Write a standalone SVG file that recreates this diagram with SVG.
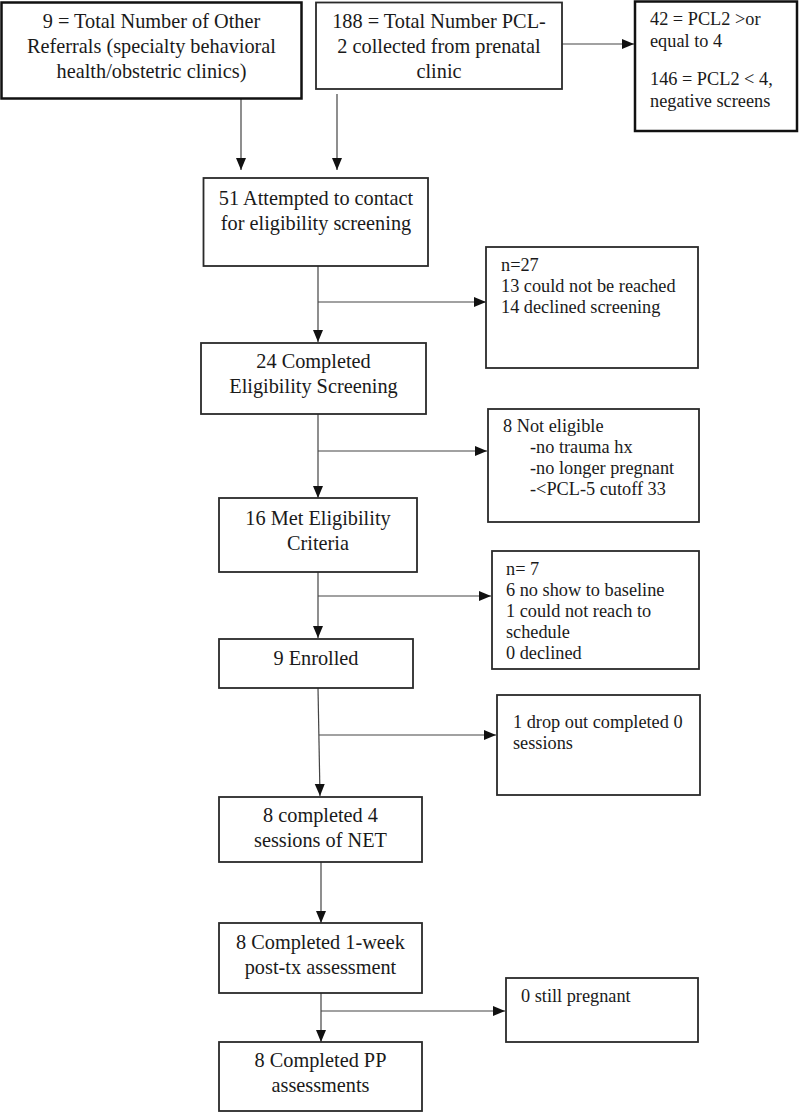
<svg xmlns="http://www.w3.org/2000/svg" width="799" height="1112" viewBox="0 0 799 1112">
<style>
.box{fill:#fff;stroke:#2a2a2a;stroke-width:1.8}
.thick{fill:#fff;stroke:#111;stroke-width:2.5}
.t{font-family:"Liberation Serif","Times New Roman",serif;font-size:20.3px;fill:#1a1a1a}
.s{font-family:"Liberation Serif","Times New Roman",serif;font-size:18.3px;fill:#1a1a1a}
.c{text-anchor:middle}
.ln{stroke:#444;stroke-width:1.2;fill:none}
</style>
<defs>
<marker id="ah" viewBox="0 0 12 10" markerUnits="userSpaceOnUse" markerWidth="12" markerHeight="11" refX="12" refY="5" orient="auto">
<path d="M0,0 L12,5 L0,10 z" fill="#111"/>
</marker>
</defs>
<rect width="799" height="1112" fill="#fff"/>
<g id="connectors">
<line class="ln" x1="562" y1="44" x2="634" y2="44" marker-end="url(#ah)"/>
<line class="ln" x1="241" y1="99" x2="241" y2="170" marker-end="url(#ah)"/>
<line class="ln" x1="337" y1="94" x2="337" y2="170" marker-end="url(#ah)"/>
<line class="ln" x1="318" y1="266" x2="318" y2="342" marker-end="url(#ah)"/>
<line class="ln" x1="318" y1="302" x2="486" y2="302" marker-end="url(#ah)"/>
<line class="ln" x1="318" y1="414" x2="318" y2="498" marker-end="url(#ah)"/>
<line class="ln" x1="318" y1="451" x2="487" y2="451" marker-end="url(#ah)"/>
<line class="ln" x1="318" y1="572" x2="318" y2="638" marker-end="url(#ah)"/>
<line class="ln" x1="318" y1="596" x2="491" y2="596" marker-end="url(#ah)"/>
<line class="ln" x1="318" y1="688" x2="320" y2="796" marker-end="url(#ah)"/>
<line class="ln" x1="319" y1="735" x2="496" y2="735" marker-end="url(#ah)"/>
<line class="ln" x1="321" y1="862" x2="321" y2="923" marker-end="url(#ah)"/>
<line class="ln" x1="321" y1="993" x2="321" y2="1042" marker-end="url(#ah)"/>
<line class="ln" x1="321" y1="1011" x2="505" y2="1011" marker-end="url(#ah)"/>
</g>
<g id="n-other-referrals">
<rect class="thick" x="1.5" y="2.5" width="300" height="96"/>
<text class="t c" x="151.5" y="28">9 = Total Number of Other</text>
<text class="t c" x="151.5" y="53">Referrals (specialty behavioral</text>
<text class="t c" x="151.5" y="78">health/obstetric clinics)</text>
</g>
<g id="n-pcl2-collected">
<rect class="box" x="316" y="2.5" width="246" height="86.5"/>
<text class="t c" x="439" y="28">188 = Total Number PCL-</text>
<text class="t c" x="439" y="53">2 collected from prenatal</text>
<text class="t c" x="439" y="78">clinic</text>
</g>
<g id="n-pcl2-results">
<rect class="thick" x="635" y="1.5" width="162" height="129.5"/>
<text class="s" x="650" y="25">42 = PCL2 &gt;or</text>
<text class="s" x="650" y="47">equal to 4</text>
<text class="s" x="650" y="85">146 = PCL2 &lt; 4,</text>
<text class="s" x="650" y="107">negative screens</text>
</g>
<g id="n-attempted">
<rect class="box" x="203.5" y="178" width="224.5" height="88"/>
<text class="t c" x="316" y="205">51 Attempted to contact</text>
<text class="t c" x="316" y="230">for eligibility screening</text>
</g>
<g id="n-not-reached">
<rect class="box" x="486" y="247" width="212" height="121"/>
<text class="s" x="501" y="271">n=27</text>
<text class="s" x="501" y="292">13 could not be reached</text>
<text class="s" x="501" y="313">14 declined screening</text>
</g>
<g id="n-completed-screening">
<rect class="box" x="201" y="343" width="225" height="71"/>
<text class="t c" x="313.5" y="368">24 Completed</text>
<text class="t c" x="313.5" y="393">Eligibility Screening</text>
</g>
<g id="n-not-eligible">
<rect class="box" x="488" y="409" width="211" height="113"/>
<text class="s" x="503" y="432">8 Not eligible</text>
<text class="s" x="530" y="453">-no trauma hx</text>
<text class="s" x="530" y="474">-no longer pregnant</text>
<text class="s" x="530" y="495">-&lt;PCL-5 cutoff 33</text>
</g>
<g id="n-met-criteria">
<rect class="box" x="219" y="498" width="198" height="74"/>
<text class="t c" x="318" y="525">16 Met Eligibility</text>
<text class="t c" x="318" y="550">Criteria</text>
</g>
<g id="n-no-show">
<rect class="box" x="492" y="551" width="207" height="118"/>
<text class="s" x="506" y="575">n= 7</text>
<text class="s" x="506" y="596">6 no show to baseline</text>
<text class="s" x="506" y="617">1 could not reach to</text>
<text class="s" x="506" y="638">schedule</text>
<text class="s" x="506" y="659">0 declined</text>
</g>
<g id="n-enrolled">
<rect class="box" x="219" y="639" width="194" height="49"/>
<text class="t c" x="316" y="665">9 Enrolled</text>
</g>
<g id="n-drop-out">
<rect class="box" x="497" y="695" width="203" height="100"/>
<text class="s" x="513" y="728">1 drop out completed 0</text>
<text class="s" x="513" y="749">sessions</text>
</g>
<g id="n-completed-net">
<rect class="box" x="219" y="797" width="203" height="65"/>
<text class="t c" x="320.5" y="822">8 completed 4</text>
<text class="t c" x="320.5" y="847">sessions of NET</text>
</g>
<g id="n-post-tx">
<rect class="box" x="219" y="923" width="203" height="70"/>
<text class="t c" x="320.5" y="949">8 Completed 1-week</text>
<text class="t c" x="320.5" y="974">post-tx assessment</text>
</g>
<g id="n-still-pregnant">
<rect class="box" x="506" y="978" width="192" height="64"/>
<text class="s" x="521" y="1002">0 still pregnant</text>
</g>
<g id="n-pp">
<rect class="box" x="219" y="1042" width="203" height="69"/>
<text class="t c" x="320.5" y="1067">8 Completed PP</text>
<text class="t c" x="320.5" y="1092">assessments</text>
</g>
</svg>
